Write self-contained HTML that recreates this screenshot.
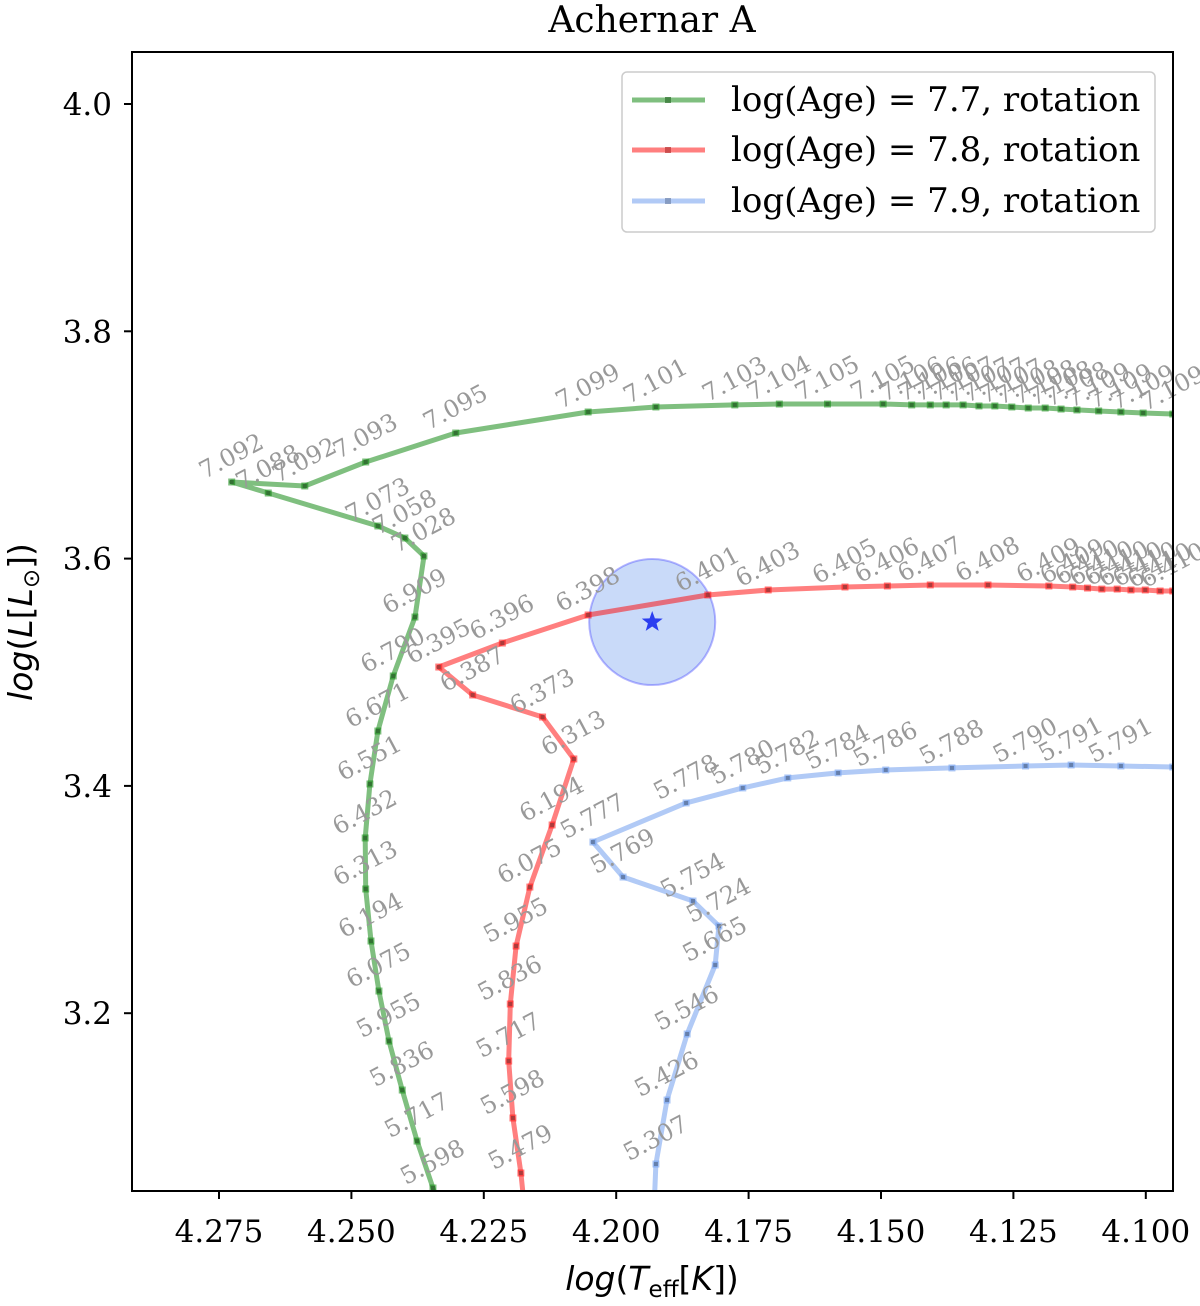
<!DOCTYPE html>
<html><head><meta charset="utf-8"><style>
body{margin:0;background:#fff;}
svg text{font-family:"DejaVu Serif","Liberation Serif",serif;}
</style></head><body>
<svg id="chart" width="1200" height="1301" viewBox="0 0 1200 1301" xmlns="http://www.w3.org/2000/svg">
<defs><clipPath id="clip"><rect x="132" y="52" width="1041" height="1139"/></clipPath></defs>
<text x="652" y="32" font-size="36" text-anchor="middle">Achernar A</text>
<g id="plot" clip-path="url(#clip)"></g>
<g id="labels"></g>
<rect x="132" y="52" width="1041" height="1139" fill="none" stroke="#000" stroke-width="2"/>
<g id="axes"></g>
<text x="652" y="1290" font-size="33" text-anchor="middle" style="font-family:'DejaVu Sans','Liberation Sans',sans-serif"><tspan font-style="italic">log</tspan>(<tspan font-style="italic">T</tspan><tspan font-size="23" dy="7">eff</tspan><tspan dy="-7">[</tspan><tspan font-style="italic">K</tspan>])</text>
<text transform="translate(32,622) rotate(-90)" font-size="33" text-anchor="middle" style="font-family:'DejaVu Sans','Liberation Sans',sans-serif"><tspan font-style="italic">log</tspan>(<tspan font-style="italic">L</tspan>[<tspan font-style="italic">L</tspan><tspan font-size="23" dy="7">⊙</tspan><tspan dy="-7">])</tspan></text>
<g>
<rect x="622" y="72" width="533" height="160" rx="5" fill="#fff" fill-opacity="0.8" stroke="#ccc" stroke-width="1.5"/>
<g><line x1="632" y1="100" x2="705" y2="100" stroke="#008000" stroke-opacity="0.5" stroke-width="5"/><rect x="665" y="97" width="6" height="6" fill="#3a7a3a" opacity="0.8"/><text x="731" y="111" font-size="34">log(Age) = 7.7, rotation</text></g>
<g><line x1="632" y1="150" x2="705" y2="150" stroke="#ff0000" stroke-opacity="0.5" stroke-width="5"/><rect x="665" y="147" width="6" height="6" fill="#c04040" opacity="0.8"/><text x="731" y="161" font-size="34">log(Age) = 7.8, rotation</text></g>
<g><line x1="632" y1="201" x2="705" y2="201" stroke="#6495ed" stroke-opacity="0.5" stroke-width="5"/><rect x="665" y="198" width="6" height="6" fill="#7b8fb5" opacity="0.8"/><text x="731" y="212" font-size="34">log(Age) = 7.9, rotation</text></g>
</g>
</svg>
<script>
const xTicks=[4.275,4.250,4.225,4.200,4.175,4.150,4.125,4.100];
const yTicks=[3.2,3.4,3.6,3.8,4.0];
const greenT=[4.2316,4.2346,4.2376,4.2404,4.2429,4.2448,4.2463,4.2473,4.2474,4.2465,4.2450,4.2421,4.2380,4.2363,4.2399,4.2450,4.2657,4.2726,4.2588,4.2473,4.2303,4.2053,4.1925,4.1776,4.1692,4.1601,4.1496,4.1442,4.1407,4.1377,4.1345,4.1315,4.1285,4.1253,4.1222,4.1190,4.1160,4.1130,4.1089,4.1047,4.1005,4.0949];
const greenL=[3.0,3.0462,3.0875,3.1324,3.1755,3.2195,3.2635,3.3093,3.3542,3.4017,3.4483,3.4967,3.5486,3.6023,3.6181,3.6287,3.6577,3.6674,3.6639,3.6850,3.7105,3.7290,3.7334,3.7352,3.7360,3.7360,3.7360,3.7352,3.7352,3.7352,3.7352,3.7343,3.7343,3.7334,3.7325,3.7325,3.7316,3.7308,3.7299,3.7290,3.7281,3.7272];
const greenAge=["","5.598","5.717","5.836","5.955","6.075","6.194","6.313","6.432","6.551","6.671","6.790","6.909","7.028","7.058","7.073","7.088","7.092","7.092","7.093","7.095","7.099","7.101","7.103","7.104","7.105","7.105","7.106","7.106","7.106","7.107","7.107","7.107","7.107","7.108","7.108","7.108","7.108","7.109","7.109","7.109","7.109"];
const redT=[4.2167,4.2180,4.2195,4.2203,4.2200,4.2189,4.2163,4.2121,4.2080,4.2139,4.2271,4.2335,4.2215,4.2053,4.1827,4.1713,4.1568,4.1488,4.1407,4.1298,4.1183,4.1138,4.1110,4.1083,4.1054,4.1028,4.1001,4.0973,4.0949];
const redL=[3.0,3.0594,3.1078,3.1579,3.2081,3.2591,3.3110,3.3656,3.4237,3.4606,3.4800,3.5046,3.5257,3.5504,3.5680,3.5724,3.5750,3.5759,3.5768,3.5768,3.5759,3.5750,3.5741,3.5732,3.5732,3.5724,3.5724,3.5715,3.5715];
const redAge=["","5.479","5.598","5.717","5.836","5.955","6.075","6.194","6.313","6.373","6.387","6.395","6.396","6.398","6.401","6.403","6.405","6.406","6.407","6.408","6.409","6.409","6.410","6.410","6.410","6.410","6.410","6.410","6.410"];
const blueT=[4.1931,4.1925,4.1904,4.1866,4.1813,4.1806,4.1855,4.1987,4.2044,4.1868,4.1761,4.1676,4.1581,4.1491,4.1366,4.1227,4.1141,4.1047,4.0949];
const blueL=[3.0,3.0673,3.1236,3.1817,3.2424,3.2767,3.2987,3.3198,3.3506,3.3850,3.3982,3.4070,3.4114,3.4140,3.4158,3.4175,3.4184,3.4175,3.4166];
const blueAge=["","5.307","5.426","5.546","5.665","5.724","5.754","5.769","5.777","5.778","5.780","5.782","5.784","5.786","5.788","5.790","5.791","5.791",""];
const starT=[4.1932];
const starL=[3.5442];
const starErrT=[0.0119];

const NS="http://www.w3.org/2000/svg";
function sx(t){return 219+(4.275-t)*5296;}
function sy(l){return 104+(4.0-l)*1136.5;}
function mk(tag,attrs,parent){const e=document.createElementNS(NS,tag);for(const k in attrs)e.setAttribute(k,attrs[k]);parent.appendChild(e);return e;}
const plot=document.getElementById('plot'),labels=document.getElementById('labels'),axes=document.getElementById('axes');

const r=starErrT[0]*5296;
const circ=mk('circle',{cx:sx(starT[0]),cy:sy(starL[0]),r:r,fill:'#6495ed','fill-opacity':0.35,stroke:'#3030ff','stroke-opacity':0.35,'stroke-width':2},plot);



function series(T,L,A,color,mcol,name){
  const pts=T.map((t,i)=>sx(t).toFixed(1)+','+sy(L[i]).toFixed(1)).join(' ');
  const pl=mk('polyline',{points:pts,fill:'none',stroke:color,'stroke-opacity':0.5,'stroke-width':5,'stroke-linejoin':'round'},plot);
  
  
  T.forEach((t,i)=>{
    if(i===0 && A[i]==="")return;
    const x=sx(t),y=sy(L[i]);
    const m=mk('rect',{x:x-3.5,y:y-3.5,width:7,height:7,fill:color,'fill-opacity':0.5},plot);
    
    
    mk('rect',{x:x-2,y:y-2,width:4,height:4,fill:mcol,'fill-opacity':0.7},plot);
    if(A[i]){
      const tx=mk('text',{x:x,y:y-18,'font-size':24,fill:'#999','text-anchor':'middle',transform:`rotate(-28 ${x} ${y-25})`},labels);
      
      
      tx.textContent=A[i];
    }
  });
}
series(greenT,greenL,greenAge,'#008000','#2f5f2f','green-track');
series(redT,redL,redAge,'#ff0000','#8a3a3a','red-track');
series(blueT,blueL,blueAge,'#6495ed','#556b8f','blue-track');

const cx=sx(starT[0]),cy=sy(starL[0]);
let sp=[];for(let k=0;k<10;k++){const rr=k%2?4.5:11;const a=-Math.PI/2+k*Math.PI/5;sp.push((cx+rr*Math.cos(a)).toFixed(1)+','+(cy+rr*Math.sin(a)).toFixed(1));}
const star=mk('polygon',{points:sp.join(' '),fill:'#2a3df0'},plot);



xTicks.forEach(t=>{const x=sx(t);
  mk('line',{x1:x,y1:1191,x2:x,y2:1199,stroke:'#000','stroke-width':2},axes);
  const tx=mk('text',{x:x,y:1242,'font-size':31,'text-anchor':'middle'},axes);
  
  
  tx.textContent=t.toFixed(3);});
yTicks.forEach(l=>{const y=sy(l);
  mk('line',{x1:124,y1:y,x2:132,y2:y,stroke:'#000','stroke-width':2},axes);
  const tx=mk('text',{x:112,y:y+11,'font-size':31,'text-anchor':'end'},axes);
  
  
  tx.textContent=l.toFixed(1);});
</script>
</body></html>
